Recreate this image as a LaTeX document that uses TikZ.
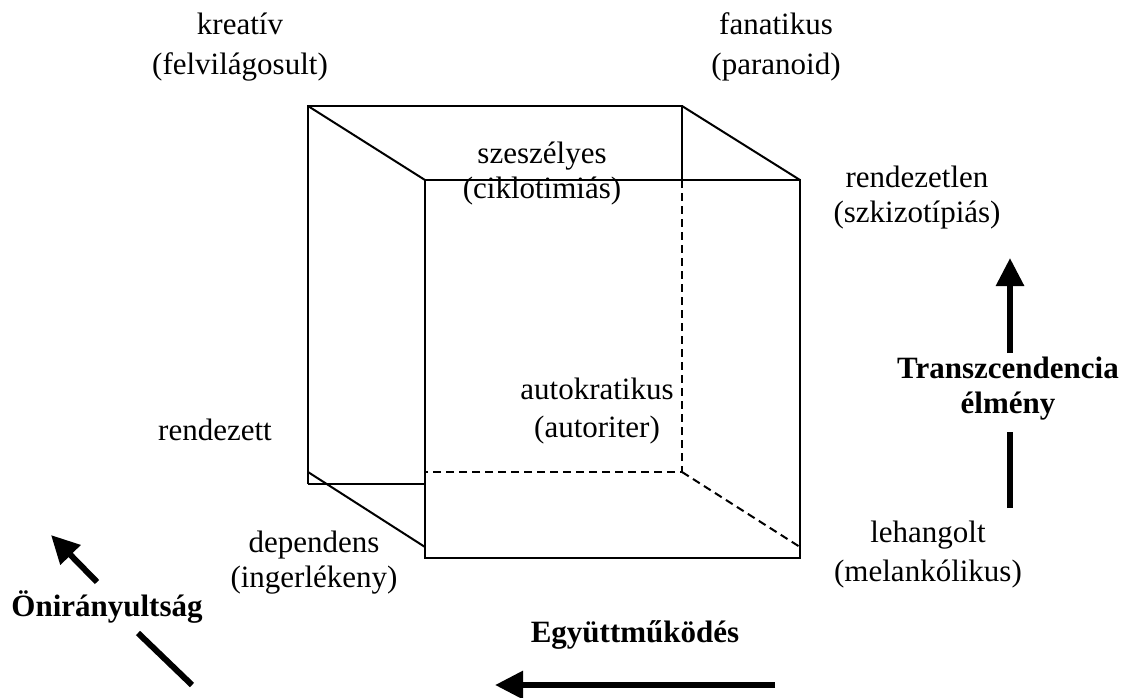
\documentclass[tikz,border=0pt]{standalone}
\usepackage{fontspec}
\setmainfont{Liberation Serif}
\usetikzlibrary{arrows.meta}
\begin{document}
\begin{tikzpicture}[x=0.5pt,y=-0.5pt,
    lbl/.style={align=center,inner sep=0pt,font=\fontsize{15.5}{17.5}\selectfont},
    axislbl/.style={align=center,inner sep=0pt,font=\bfseries\fontsize{15.5}{17.5}\selectfont},
    edge/.style={line width=1pt},
    hidden/.style={line width=1pt,dash pattern=on 4pt off 2.5pt},
    bigline/.style={line width=3pt},
    bigarrow/.style={line width=3pt,-{Triangle[length=14pt,width=13.5pt]}}]
    \useasboundingbox (0,0) rectangle (1128,697);

    % back face
    \coordinate (BTL) at (308,106); \coordinate (BTR) at (682,106);
    \coordinate (BBR) at (682,472); \coordinate (BBL) at (308,472);
    \coordinate (BLow) at (308,484);
    % front face
    \coordinate (FTL) at (425,180); \coordinate (FTR) at (800,180);
    \coordinate (FBR) at (800,558); \coordinate (FBL) at (425,558);

    \draw [edge] (BLow) -- (BTL) -- (BTR) -- (682,180);
    \draw [edge] (BLow) -- (425,484);
    \draw [edge] (FTL) rectangle (FBR);
    \draw [edge] (BTL) -- (FTL);
    \draw [edge] (BTR) -- (FTR);
    \draw [edge] (BBL) -- (425,547);
    \draw [hidden] (682,180) -- (BBR) -- (425,472);
    \draw [hidden] (BBR) -- (800,547);

    % corner labels
    \node (kreativ) at (240,47) [lbl] {kreatív\\[2.5pt](felvilágosult)};
    \node (fanatikus) at (776,47) [lbl] {fanatikus\\[2.5pt](paranoid)};
    \node (szeszelyes) at (542,174) [lbl] {szeszélyes\\(ciklotimiás)};
    \node (rendezetlen) at (917,198) [lbl] {rendezetlen\\(szkizotípiás)};
    \node (autokratikus) at (597,411) [lbl] {autokratikus\\[1.5pt](autoriter)};
    \node (rendezett) at (215,430) [lbl] {rendezett};
    \node (dependens) at (314,563) [lbl] {dependens\\(ingerlékeny)};
    \node (lehangolt) at (928,555) [lbl] {lehangolt\\[2pt](melankólikus)};

    % axes
    \node (onir) at (107,607) [axislbl] {Önirányultság};
    \coordinate (O1) at (192,685); \coordinate (O2) at (138,633);
    \coordinate (O3) at (97,582); \coordinate (O4) at (51,535);
    \draw [bigline] (O1) -- (O2);
    \draw [bigarrow] (O3) -- (O4);

    \node (egyutt) at (635,635) [axislbl] {Együttműködés};
    \coordinate (E1) at (775,685); \coordinate (E2) at (495,685);
    \draw [bigarrow] (E1) -- (E2);

    \node (transz) at (1008,389) [axislbl] {Transzcendencia\\élmény};
    \coordinate (T1) at (1010,508); \coordinate (T2) at (1010,432);
    \coordinate (T3) at (1010,353); \coordinate (T4) at (1010,258);
    \draw [bigline] (T1) -- (T2);
    \draw [bigarrow] (T3) -- (T4);
\end{tikzpicture}
\end{document}
